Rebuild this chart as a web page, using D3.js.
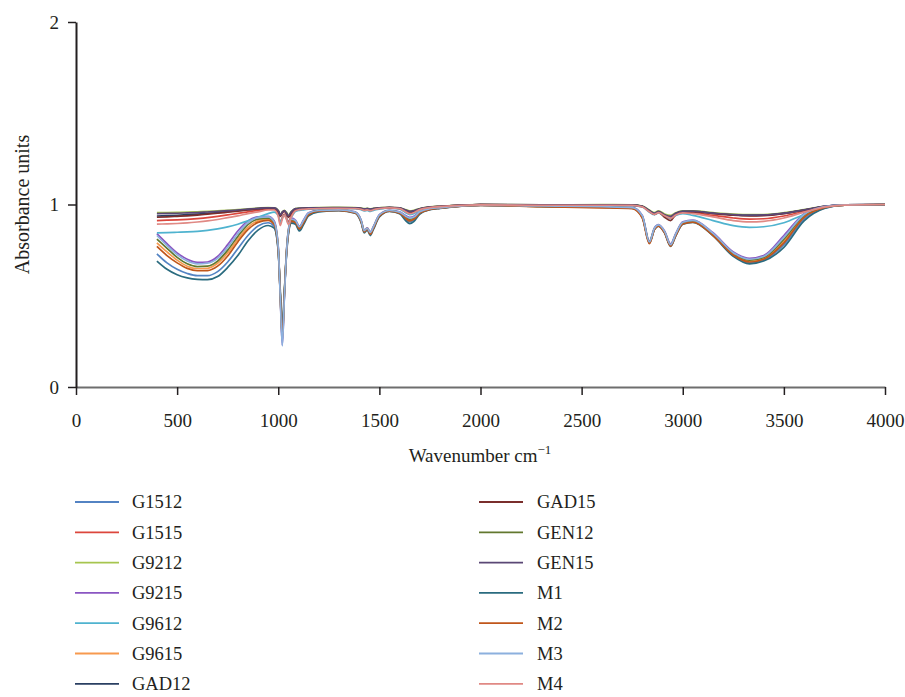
<!DOCTYPE html>
<html>
<head>
<meta charset="utf-8">
<script src="https://cdn.jsdelivr.net/npm/d3@7"></script>
<style>
  body { margin: 0; background: #fff; }
  text { font-family: "Liberation Serif", "DejaVu Serif", serif; fill: #231f20; }
</style>
</head>
<body>
<div id="chart"></div>
<script>
// Wavenumber grid (cm-1) shared by all spectra
var wavenumbers = [400,450,500,550,600,650,700,750,800,850,900,950,980,
  1000,1010,1020,1030,1040,1050,1065,1085,1105,1125,1150,1200,
  1300,1380,1410,1425,1440,1455,1470,1500,1550,1600,1630,1650,1670,1700,1750,1800,
  2000,2300,2600,2750,2800,2835,2860,2880,2910,2940,2965,3000,3050,3150,3250,3330,3400,3500,3600,3700,3800,4000];

// Absorbance values, one array per sample
var G1512 = [0.73,0.68,0.645,0.622,0.61,0.61,0.632,0.685,0.757,0.83,0.882,0.9,0.88,
  0.745,0.50,0.25,0.49,0.715,0.84,0.905,0.898,0.862,0.896,0.942,0.962,
  0.968,0.955,0.906,0.853,0.866,0.84,0.869,0.937,0.964,0.953,0.92,0.905,0.915,0.952,0.973,0.98,
  0.996,0.99,0.985,0.98,0.932,0.79,0.865,0.884,0.848,0.775,0.83,0.895,0.905,0.832,0.72,0.68,0.695,0.78,0.92,0.98,0.996,1.0];
var G1515 = [0.912,0.914,0.916,0.919,0.923,0.928,0.935,0.943,0.951,0.96,0.968,0.975,0.975,
  0.945,0.9,0.93,0.948,0.93,0.905,0.94,0.97,0.975,0.976,0.978,0.979,
  0.98,0.979,0.975,0.97,0.973,0.968,0.973,0.978,0.982,0.978,0.963,0.953,0.958,0.973,0.984,0.988,
  0.999,0.996,0.997,0.995,0.988,0.962,0.948,0.958,0.94,0.928,0.945,0.957,0.955,0.94,0.926,0.92,0.922,0.937,0.962,0.987,0.997,1.0];
var G9212 = [0.955,0.956,0.957,0.958,0.96,0.962,0.965,0.968,0.972,0.976,0.98,0.983,0.982,
  0.968,0.945,0.96,0.968,0.958,0.942,0.962,0.978,0.98,0.981,0.982,0.983,
  0.984,0.983,0.98,0.977,0.979,0.976,0.979,0.982,0.985,0.982,0.972,0.965,0.968,0.978,0.987,0.99,
  1.0,0.998,0.999,0.998,0.992,0.97,0.955,0.965,0.948,0.94,0.955,0.965,0.965,0.955,0.947,0.944,0.945,0.955,0.972,0.99,0.998,1.0];
var G9215 = [0.84,0.785,0.735,0.70,0.683,0.685,0.715,0.78,0.855,0.91,0.932,0.935,0.91,
  0.77,0.50,0.23,0.49,0.73,0.86,0.925,0.915,0.88,0.915,0.955,0.968,
  0.972,0.96,0.915,0.86,0.872,0.85,0.878,0.945,0.968,0.96,0.94,0.93,0.935,0.962,0.978,0.983,
  0.997,0.992,0.988,0.984,0.94,0.8,0.872,0.89,0.855,0.785,0.84,0.905,0.915,0.845,0.74,0.705,0.72,0.83,0.95,0.99,0.998,1.0];
var G9612 = [0.845,0.846,0.848,0.85,0.853,0.858,0.866,0.877,0.892,0.91,0.93,0.95,0.958,
  0.94,0.9,0.925,0.942,0.925,0.895,0.93,0.962,0.968,0.971,0.974,0.977,
  0.978,0.977,0.972,0.965,0.968,0.962,0.968,0.975,0.98,0.975,0.955,0.945,0.95,0.97,0.982,0.987,
  0.998,0.995,0.995,0.994,0.986,0.958,0.944,0.954,0.935,0.922,0.94,0.95,0.94,0.912,0.884,0.875,0.878,0.9,0.945,0.983,0.996,1.0];
var G9615 = [0.79,0.74,0.695,0.662,0.648,0.65,0.678,0.735,0.81,0.875,0.91,0.918,0.895,
  0.755,0.50,0.26,0.50,0.725,0.85,0.912,0.905,0.87,0.905,0.948,0.965,
  0.969,0.956,0.908,0.856,0.869,0.845,0.872,0.938,0.965,0.955,0.928,0.915,0.923,0.956,0.975,0.981,
  0.996,0.989,0.984,0.98,0.93,0.79,0.866,0.884,0.848,0.776,0.832,0.897,0.907,0.834,0.728,0.69,0.705,0.80,0.935,0.984,0.997,1.0];
var GAD12 = [0.937,0.939,0.941,0.944,0.947,0.951,0.956,0.961,0.966,0.972,0.977,0.981,0.98,
  0.965,0.94,0.957,0.965,0.953,0.935,0.958,0.976,0.978,0.979,0.98,0.981,
  0.982,0.981,0.978,0.974,0.977,0.973,0.977,0.98,0.983,0.98,0.968,0.96,0.964,0.976,0.985,0.989,
  0.999,0.997,0.998,0.997,0.99,0.966,0.95,0.96,0.942,0.93,0.95,0.962,0.962,0.952,0.943,0.94,0.941,0.951,0.97,0.989,0.998,1.0];
var GAD15 = [0.93,0.932,0.935,0.938,0.942,0.947,0.952,0.958,0.964,0.97,0.976,0.98,0.979,
  0.962,0.935,0.953,0.962,0.95,0.93,0.955,0.975,0.977,0.978,0.979,0.98,
  0.981,0.98,0.977,0.972,0.975,0.971,0.975,0.979,0.983,0.979,0.966,0.957,0.962,0.975,0.985,0.989,
  0.999,0.997,0.997,0.996,0.989,0.963,0.946,0.958,0.93,0.912,0.945,0.96,0.961,0.95,0.941,0.938,0.939,0.95,0.969,0.989,0.998,1.0];
var GEN12 = [0.81,0.76,0.71,0.675,0.66,0.662,0.69,0.75,0.825,0.89,0.92,0.925,0.9,
  0.76,0.51,0.28,0.51,0.73,0.855,0.915,0.908,0.874,0.908,0.95,0.966,
  0.97,0.957,0.91,0.855,0.868,0.843,0.873,0.94,0.966,0.956,0.932,0.92,0.927,0.958,0.976,0.982,
  0.996,0.99,0.986,0.982,0.935,0.795,0.868,0.886,0.85,0.778,0.835,0.9,0.91,0.838,0.732,0.695,0.71,0.81,0.94,0.986,0.997,1.0];
var GEN15 = [0.95,0.951,0.952,0.954,0.956,0.959,0.962,0.966,0.97,0.975,0.979,0.982,0.981,
  0.966,0.942,0.958,0.966,0.955,0.938,0.96,0.977,0.979,0.98,0.981,0.982,
  0.983,0.982,0.979,0.975,0.978,0.974,0.978,0.981,0.984,0.981,0.97,0.962,0.966,0.977,0.986,0.99,
  1.0,0.998,0.998,0.997,0.99,0.967,0.952,0.962,0.944,0.935,0.952,0.963,0.963,0.953,0.945,0.942,0.943,0.953,0.971,0.99,0.998,1.0];
var M1 = [0.69,0.645,0.615,0.598,0.59,0.588,0.605,0.655,0.72,0.80,0.86,0.885,0.87,
  0.74,0.53,0.33,0.52,0.71,0.835,0.898,0.892,0.855,0.89,0.938,0.96,
  0.966,0.952,0.9,0.845,0.86,0.83,0.862,0.932,0.962,0.95,0.912,0.895,0.906,0.948,0.971,0.979,
  0.995,0.99,0.985,0.98,0.93,0.79,0.862,0.882,0.845,0.77,0.827,0.892,0.902,0.828,0.716,0.675,0.69,0.765,0.91,0.978,0.996,1.0];
var M2 = [0.77,0.72,0.68,0.65,0.637,0.638,0.662,0.718,0.795,0.862,0.902,0.913,0.89,
  0.75,0.51,0.27,0.50,0.72,0.845,0.908,0.902,0.866,0.9,0.945,0.963,
  0.968,0.954,0.905,0.85,0.865,0.837,0.868,0.936,0.963,0.953,0.924,0.91,0.919,0.953,0.973,0.98,
  0.995,0.988,0.982,0.977,0.925,0.785,0.862,0.882,0.845,0.772,0.828,0.893,0.903,0.83,0.723,0.685,0.70,0.79,0.93,0.982,0.996,1.0];
var M3 = [0.83,0.775,0.725,0.69,0.675,0.678,0.705,0.765,0.84,0.90,0.928,0.932,0.905,
  0.765,0.49,0.225,0.48,0.72,0.855,0.92,0.912,0.878,0.912,0.953,0.967,
  0.971,0.958,0.912,0.857,0.87,0.847,0.876,0.943,0.967,0.958,0.936,0.925,0.931,0.96,0.977,0.982,
  0.997,0.992,0.988,0.983,0.938,0.795,0.87,0.888,0.853,0.78,0.838,0.903,0.913,0.842,0.736,0.70,0.715,0.82,0.945,0.988,0.998,1.0];
var M4 = [0.892,0.894,0.896,0.899,0.904,0.91,0.918,0.928,0.938,0.95,0.96,0.97,0.97,
  0.935,0.885,0.92,0.94,0.92,0.89,0.932,0.966,0.972,0.974,0.976,0.978,
  0.979,0.978,0.974,0.968,0.971,0.966,0.971,0.977,0.981,0.977,0.96,0.95,0.955,0.972,0.983,0.988,
  0.998,0.996,0.996,0.995,0.987,0.96,0.946,0.956,0.938,0.925,0.942,0.954,0.95,0.932,0.912,0.905,0.908,0.926,0.958,0.986,0.997,1.0];

var seriesNames = ["G1512","G1515","G9212","G9215","G9612","G9615","GAD12",
  "GAD15","GEN12","GEN15","M1","M2","M3","M4"];
var seriesValues = [G1512,G1515,G9212,G9215,G9612,G9615,GAD12,
  GAD15,GEN12,GEN15,M1,M2,M3,M4];
var seriesColors = ["#5383c3","#dc463c","#a6c54f","#8a56c2","#4fb3cf","#f7994e","#2a3f62",
  "#7a2e2c","#62782e","#5a4775","#2a6b7f","#c0561a","#8cb0de","#e08984"];

var xTickValues = [0,500,1000,1500,2000,2500,3000,3500,4000];
var yTickValues = [0,1,2];

// Set up the chart
var svgWidth = 905;
var svgHeight = 697;
var fontSize = 19;

var svg = d3.select("#chart")
  .append("svg")
  .attr("width", svgWidth)
  .attr("height", svgHeight);

var xScale = d3.scaleLinear().domain([0, 4000]).range([76, 885]);
var yScale = d3.scaleLinear().domain([0, 2]).range([387, 22]);

// Spectra
var line = d3.line()
  .x(function(d) { return xScale(d[0]); })
  .y(function(d) { return yScale(d[1]); })
  .curve(d3.curveMonotoneX);

var series = seriesNames.map(function(name, i) {
  return {
    name: name,
    color: seriesColors[i],
    points: wavenumbers.map(function(w, j) { return [w, seriesValues[i][j]]; })
  };
});

svg.append("g")
  .selectAll("path")
  .data(series)
  .enter()
  .append("path")
  .attr("d", function(d) { return line(d.points); })
  .attr("fill", "none")
  .attr("stroke", function(d) { return d.color; })
  .attr("stroke-width", 1.7);

// X axis
var xAxis = svg.append("g")
  .attr("transform", "translate(0," + yScale(0) + ")")
  .call(d3.axisBottom(xScale).tickValues(xTickValues).tickFormat(d3.format("d"))
    .tickSize(8).tickPadding(19).tickSizeOuter(0));
xAxis.select(".domain").attr("stroke", "#6e6e6e").attr("stroke-width", 2);
xAxis.selectAll(".tick line").attr("stroke", "#231f20").attr("stroke-width", 1.5);
xAxis.selectAll("text").attr("font-size", fontSize).attr("font-family", null);

// Y axis
var yAxis = svg.append("g")
  .attr("transform", "translate(" + xScale(0) + ",0)")
  .call(d3.axisLeft(yScale).tickValues(yTickValues).tickFormat(d3.format("d"))
    .tickSize(8).tickPadding(9).tickSizeOuter(0));
yAxis.select(".domain").attr("stroke", "#231f20").attr("stroke-width", 2);
yAxis.selectAll(".tick line").attr("stroke", "#231f20").attr("stroke-width", 1.5);
yAxis.selectAll("text").attr("font-size", fontSize).attr("font-family", null);

// Axis titles
svg.append("text")
  .attr("transform", "translate(22," + yScale(1) + ") rotate(-90)")
  .attr("text-anchor", "middle")
  .attr("dy", "0.35em")
  .attr("font-size", 20)
  .text("Absorbance units");

var xTitle = svg.append("text")
  .attr("x", 480)
  .attr("y", 462)
  .attr("text-anchor", "middle")
  .attr("font-size", fontSize);
xTitle.append("tspan").text("Wavenumber cm");
xTitle.append("tspan").attr("dy", -8).attr("font-size", 13).text("\u22121");

// Legend: two columns of seven
var legend = svg.append("g")
  .selectAll("g")
  .data(series)
  .enter()
  .append("g")
  .attr("transform", function(d, i) {
    var col = Math.floor(i / 7), row = i % 7;
    return "translate(" + (col === 0 ? 75 : 479) + "," + (502 + row * 30.3) + ")";
  });

legend.append("line")
  .attr("x1", 0).attr("x2", 44)
  .attr("stroke", function(d) { return d.color; })
  .attr("stroke-width", 1.8);

legend.append("text")
  .attr("x", function(d, i) { return i < 7 ? 57 : 58; })
  .attr("dy", "0.35em")
  .attr("font-size", 18.5)
  .text(function(d) { return d.name; });
</script>
</body>
</html>
